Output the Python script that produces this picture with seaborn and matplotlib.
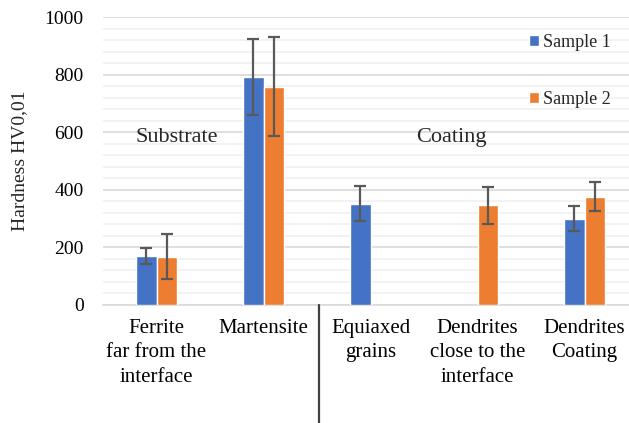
import numpy as np
import pandas as pd
import matplotlib.pyplot as plt
import matplotlib.transforms as mtransforms
from matplotlib.patches import Patch
import seaborn as sns

# Data
categories = ['Ferrite\nfar from the\ninterface', 'Martensite', 'Equiaxed\ngrains',
              'Dendrites\nclose to the\ninterface', 'Dendrites\nCoating']
sample1 = [171, 794, 352, np.nan, 300]
sample1_err = [27, 132, 61, np.nan, 44]
sample2 = [168, 758, np.nan, 346, 376]
sample2_err = [78, 172, np.nan, 64, 50]
series = ['Sample 1', 'Sample 2']
colors = ['#4472C4', '#ED7D31']

df = pd.DataFrame({
    'Region': categories * 2,
    'Sample': [series[0]] * 5 + [series[1]] * 5,
    'Hardness': sample1 + sample2,
})
errors = {series[0]: sample1_err, series[1]: sample2_err}

sns.set_theme(style='white')
plt.rcParams['font.family'] = ['Liberation Serif', 'DejaVu Serif']

fig = plt.figure(figsize=(6.29, 4.23), dpi=100)
ax = fig.add_axes([0.1638, 0.279, 0.8506, 0.68])

sns.barplot(data=df, x='Region', y='Hardness', hue='Sample', order=categories,
            hue_order=series, palette=colors, width=0.39, errorbar=None,
            saturation=1, ax=ax, zorder=3, legend=False)

# Error bars placed on the drawn bars
for container, name in zip(ax.containers, series):
    for bar in container:
        xc = bar.get_x() + bar.get_width() / 2
        h = bar.get_height()
        if np.isnan(h):
            continue
        idx = int(round(xc))
        ax.errorbar(xc, h, yerr=errors[name][idx], color='#595959', lw=1.6,
                    capsize=4.5, capthick=1.6, zorder=4)

ax.set_xlim(-0.5, 4.5)
ax.set_ylim(0, 1000)
ax.set_yticks(np.arange(0, 1001, 200))
ax.set_yticks(np.arange(0, 1001, 40), minor=True)
ax.grid(axis='y', which='major', color='#d9d9d9', lw=1.2, zorder=0)
ax.grid(axis='y', which='minor', color='#f0f0f0', lw=1.2, zorder=0)
ax.set_axisbelow(True)
for side in ['left', 'right', 'top']:
    ax.spines[side].set_visible(False)
ax.spines['bottom'].set_color('#d9d9d9')
ax.spines['bottom'].set_linewidth(1.2)
ax.tick_params(axis='y', length=0, pad=14, labelsize=14, colors='black')
ax.tick_params(axis='x', length=0, pad=10, labelsize=15, colors='black')
ax.tick_params(which='minor', length=0)
for lbl in ax.get_xticklabels():
    lbl.set_linespacing(1.4)
ax.set_xlabel('')
ax.set_ylabel('Hardness HV0,01', fontsize=14, labelpad=12)

ax.text(0.19, 582, 'Substrate', fontsize=16, ha='center', va='center')
ax.text(2.76, 582, 'Coating', fontsize=16, ha='center', va='center')

# Separator between substrate and coating
trans = mtransforms.blended_transform_factory(ax.transData, fig.transFigure)
ax.plot([1.52, 1.52], [0, 0.279], transform=trans, color='#404040', lw=1.6,
        clip_on=False, zorder=5)

handles = [Patch(facecolor=c, label=s) for c, s in zip(colors, series)]
fig.legend(handles=handles, loc='upper left', bbox_to_anchor=(529 / 629, 1 - 34 / 423),
           frameon=False, fontsize=13, handlelength=0.55, handleheight=0.55,
           handletextpad=0.25, labelspacing=2.2, borderpad=0, borderaxespad=0)

fig.savefig('out.png', dpi=100)
